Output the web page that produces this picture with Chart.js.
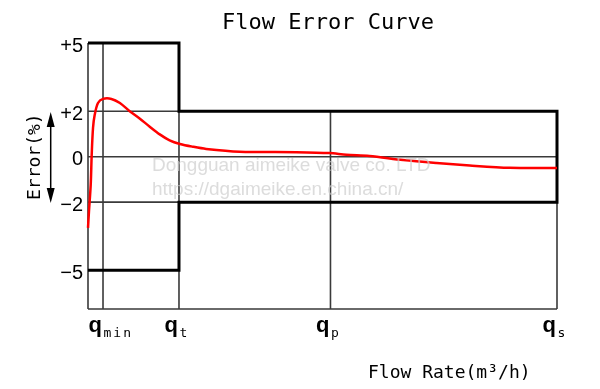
<!DOCTYPE html>
<html>
<head>
<meta charset="utf-8">
<script src="https://cdn.jsdelivr.net/npm/chart.js@4/dist/chart.umd.min.js"></script>
<style>
  body { margin: 0; background: #fff; }
  canvas { display: block; }
</style>
</head>
<body>
<canvas id="flowchart" width="600" height="389"></canvas>
<script>
// flow points on the x axis (share of q_s) and their names
const qPositions = [3.2, 19.4, 51.7, 100];
const qSubscripts = ['min', 't', 'p', 's'];

// error ticks
const errorTicks = [5, 2, 0, -2, -5];
const errorTickLabels = ['+5', '+2', '0', '\u22122', '\u22125'];

// permitted error: low zone (q_min..q_t), high zone (q_t..q_s)
const upperLimit = [5, 2];
const lowerLimit = [-5, -2];

// measured curve
const curveFlow = [0, 0.21, 0.58, 0.79, 1.07, 1.43, 2.13, 3.2, 5.0, 6.8, 8.9, 11.0, 13.1, 15.3, 17.4,
  19.6, 22.3, 25.2, 32.3, 44.4, 51.5, 55.1, 60.0, 67.2, 74.3, 81.4, 89.9, 100];
const curveError = [-3.13, -2.40, -1.23, 0.09, 1.26, 1.84, 2.36, 2.54, 2.54, 2.36, 2.0, 1.68, 1.33, 0.98, 0.72,
  0.56, 0.44, 0.34, 0.22, 0.2, 0.16, 0.08, 0.03, -0.15, -0.28, -0.39, -0.49, -0.50];

const yMin = -6.7;
const yMax = 5;
const xMin = 0;

const qmin = qPositions[0], qt = qPositions[1], qp = qPositions[2], qs = qPositions[3];

// thin frame / grid lines, separated by gaps
function seg(x1, y1, x2, y2) {
  return [{x: x1, y: y1}, {x: x2, y: y2}, {x: x2, y: null}];
}
const thinLines = [].concat(
  seg(xMin, yMax, xMin, yMin),
  seg(xMin, yMin, qs, yMin),
  seg(qmin, yMax, qmin, yMin),
  seg(qt, yMax, qt, yMin),
  seg(qp, upperLimit[1], qp, yMin),
  seg(qs, upperLimit[1], qs, yMin),
  seg(xMin, upperLimit[1], qt, upperLimit[1]),
  seg(xMin, 0, qs, 0),
  seg(xMin, lowerLimit[1], qt, lowerLimit[1])
);

// thick limit envelope
const limitLine = [
  {x: xMin, y: upperLimit[0]}, {x: qt, y: upperLimit[0]}, {x: qt, y: upperLimit[1]},
  {x: qs, y: upperLimit[1]}, {x: qs, y: lowerLimit[1]}, {x: qt, y: lowerLimit[1]},
  {x: qt, y: lowerLimit[0]}, {x: xMin, y: lowerLimit[0]}
];

const curve = curveFlow.map((f, i) => ({x: f, y: curveError[i]}));

const labelsPlugin = {
  id: 'labels',
  afterDraw(chart) {
    const ctx = chart.ctx;
    const xs = chart.scales.x;
    const ys = chart.scales.y;
    ctx.save();
    ctx.fillStyle = '#000';

    // title
    ctx.font = '22px "DejaVu Sans Mono"';
    ctx.textAlign = 'left';
    ctx.textBaseline = 'alphabetic';
    ctx.fillText('Flow Error Curve', 222, 29);

    // y ticks
    ctx.font = '20px "Liberation Sans"';
    ctx.textAlign = 'right';
    ctx.textBaseline = 'middle';
    errorTicks.forEach((v, i) => {
      ctx.fillText(errorTickLabels[i], 83, ys.getPixelForValue(v) + 3);
    });

    // x ticks: q with subscript
    qPositions.forEach((v, i) => {
      const px = xs.getPixelForValue(v);
      ctx.font = 'bold 22px "Liberation Sans"';
      ctx.textAlign = 'right';
      ctx.textBaseline = 'alphabetic';
      ctx.fillText('q', px - 1, 332);
      ctx.font = '13px "DejaVu Sans Mono"';
      ctx.textAlign = 'left';
      ctx.letterSpacing = '2px';
      ctx.fillText(qSubscripts[i], px + 0.5, 337);
      ctx.letterSpacing = '0px';
    });

    // x title
    ctx.font = '18px "DejaVu Sans Mono"';
    ctx.textAlign = 'left';
    ctx.fillText('Flow Rate(m\u00b3/h)', 368, 378);

    // y title
    ctx.save();
    ctx.translate(39.5, ys.getPixelForValue(0));
    ctx.rotate(-Math.PI / 2);
    ctx.textAlign = 'center';
    ctx.fillText('Error(%)', 0, 0);
    ctx.restore();

    // double arrow beside y title
    const ax = 50.7, aTop = 112, aBot = 203;
    ctx.strokeStyle = '#000';
    ctx.lineWidth = 1.5;
    ctx.beginPath();
    ctx.moveTo(ax, aTop + 10);
    ctx.lineTo(ax, aBot - 10);
    ctx.stroke();
    ctx.beginPath();
    ctx.moveTo(ax, aTop); ctx.lineTo(ax - 4, aTop + 15); ctx.lineTo(ax + 4, aTop + 15); ctx.closePath();
    ctx.moveTo(ax, aBot); ctx.lineTo(ax - 4, aBot - 15); ctx.lineTo(ax + 4, aBot - 15); ctx.closePath();
    ctx.fill();

    // watermark
    ctx.font = '19px "Liberation Sans"';
    ctx.fillStyle = 'rgba(205,205,205,0.7)';
    ctx.fillText('Dongguan aimeike valve co. LTD', 152, 170.5);
    ctx.fillText('https://dgaimeike.en.china.cn/', 152, 195);
    ctx.restore();
  }
};

new Chart(document.getElementById('flowchart'), {
  type: 'line',
  data: {
    datasets: [
      {
        data: curve,
        borderColor: '#ff0000',
        borderWidth: 2.5,
        pointRadius: 0,
        tension: 0.3,
        order: 0,
        clip: false
      },
      {
        data: limitLine,
        borderColor: '#000',
        borderWidth: 3,
        pointRadius: 0,
        tension: 0,
        order: 1,
        clip: false
      },
      {
        data: thinLines,
        borderColor: '#3a3a3a',
        borderWidth: 1.6,
        pointRadius: 0,
        tension: 0,
        spanGaps: false,
        order: 2,
        clip: false
      }
    ]
  },
  plugins: [labelsPlugin],
  options: {
    responsive: false,
    animation: false,
    layout: { padding: { left: 88, right: 43, top: 43, bottom: 80 } },
    plugins: { legend: { display: false }, tooltip: { enabled: false }, title: { display: false } },
    scales: {
      x: { type: 'linear', min: xMin, max: qs, display: false },
      y: { type: 'linear', min: yMin, max: yMax, display: false }
    }
  }
});
</script>
</body>
</html>
